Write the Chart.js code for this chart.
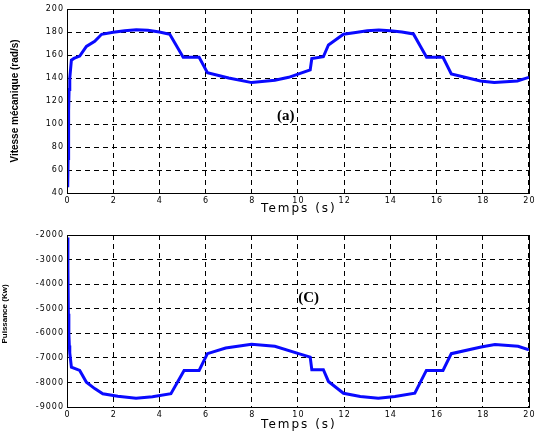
<!DOCTYPE html>
<html><head><meta charset="utf-8">
<script src="https://cdn.jsdelivr.net/npm/chart.js@4"></script>
<style>
html,body{margin:0;padding:0;background:#fff;}
#w1{position:absolute;left:0;top:0;width:537px;height:216px;}
#w2{position:absolute;left:0;top:216px;width:537px;height:216px;}
</style></head><body>
<div id="w1"><canvas id="c1" width="537" height="216"></canvas></div>
<div id="w2"><canvas id="c2" width="537" height="216"></canvas></div>
<script>
// ---- data ----
const timeSpeed = [0.03,0.05,0.07,0.09,0.12,0.19,0.3,0.55,0.84,1.2,1.5,2,2.5,3,3.5,4,4.45,5.03,5.72,6.08,7,8,9,9.6,10.53,10.6,11.1,11.32,11.97,12.5,13,13.5,14,14.5,15.0,15.57,16.28,16.64,17.9,18.5,19.5,20];
const speed =     [45,70,112,130,140,155.5,157,159,167.5,172,178,179.7,181,182,181.5,180,178,158,158,144.6,140,136,138,140.6,147,157,158.5,168.7,178,179.5,181,181.7,181,180,178.3,158,158,143.5,137.4,136,137.4,140.6];
const timePower = [0,0.04,0.06,0.08,0.1,0.12,0.19,0.55,0.84,1.2,1.55,2.2,2.99,3.7,4.5,5.07,5.72,6.08,6.87,7.99,9.0,10.03,10.53,10.6,11.1,11.32,11.97,12.7,13.48,14.2,15.06,15.56,16.28,16.64,17.93,18.53,19.53,20];
const power =     [-2100,-3300,-5200,-6000,-6500,-6800,-7375,-7510,-7990,-8250,-8460,-8560,-8640,-8580,-8460,-7510,-7510,-6830,-6600,-6450,-6530,-6830,-6967,-7480,-7480,-7960,-8440,-8570,-8640,-8570,-8440,-7510,-7510,-6830,-6560,-6460,-6530,-6670];
const xTicks = [0,2,4,6,8,10,12,14,16,18,20];
const speedTicks = [40,60,80,100,120,140,160,180,200];
const powerTicks = [-9000,-8000,-7000,-6000,-5000,-4000,-3000,-2000];
const xTitle = 'Temps (s)';
const speedTitle = 'Vitesse mécanique (rad/s)';
const powerTitle = 'Puissance (Kw)';
const labelA = {text:'(a)', x:9.47, y:107};
const labelC = {text:'(C)', x:10.46, y:-4571};

// text styling: wide tick labels / x title, shifted y title (mimics the stretched original)
let SP = Chart.registry.getScale('linear').prototype;
while (SP && !Object.prototype.hasOwnProperty.call(SP, 'drawTitle')) SP = Object.getPrototypeOf(SP);
const origTitle = SP.drawTitle, origLabels = SP.drawLabels;
SP.drawTitle = function(){
  const ctx = this.ctx; ctx.save();
  if (this.axis === 'x') { ctx.letterSpacing = '2px'; ctx.translate(1,0); }
  else { ctx.letterSpacing = '0px'; if (this.chart.canvas.id === 'c2') ctx.translate(0,-7); }
  origTitle.apply(this, arguments); ctx.restore();
};
SP.drawLabels = function(){
  const ctx = this.ctx; ctx.save();
  ctx.letterSpacing = '1px';
  if (this.axis === 'y') ctx.translate(1,0); else ctx.translate(0.5,0);
  origLabels.apply(this, arguments); ctx.restore();
};

const boxPlugin = {
  id:'box',
  afterDraw(chart){
    const a = chart.chartArea, ctx = chart.ctx;
    ctx.save();
    ctx.strokeStyle = '#000'; ctx.lineWidth = 1; ctx.setLineDash([]);
    ctx.strokeRect(Math.round(a.left)+0.5, Math.round(a.top)+0.5, Math.round(a.right-a.left), Math.round(a.bottom-a.top));
    const lab = chart.options.plugins.box.label;
    if (lab) {
      const px = chart.scales.x.getPixelForValue(lab.x);
      const py = chart.scales.y.getPixelForValue(lab.y);
      ctx.fillStyle = '#000';
      ctx.font = 'bold 15px "Liberation Serif", "Times New Roman", serif';
      ctx.textAlign = 'center'; ctx.textBaseline = 'middle';
      ctx.fillText(lab.text, px, py);
    }
    ctx.restore();
  }
};

const tickFont = {family:'"DejaVu Sans", sans-serif', size:8};
function makeChart(id, xs, ys, yTicks, yTitle, lab, pad, xAxisH, yTitleFont, yTitlePad) {
  const ymin = yTicks[0], ymax = yTicks[yTicks.length-1];
  return new Chart(document.getElementById(id), {
    type:'line',
    data:{datasets:[{data: xs.map((x,i)=>({x:x, y:ys[i]})), borderColor:'#0a0aff', borderWidth:3, pointRadius:0, tension:0, fill:false}]},
    options:{
      responsive:false, animation:false, maintainAspectRatio:false,
      layout:{padding:pad},
      plugins:{legend:{display:false}, tooltip:{enabled:false}, box:{label:lab}},
      scales:{
        x:{type:'linear', min:xTicks[0], max:xTicks[xTicks.length-1],
          afterBuildTicks(s){ s.ticks = xTicks.map(v=>({value:v})); },
          afterFit(s){ s.height = xAxisH; },
          grid:{color:'#000', lineWidth:1, drawTicks:false, tickLength:0},
          border:{display:false, dash:[5,4]},
          ticks:{color:'#000', font:tickFont, padding:3, maxRotation:0, callback:v=>String(v)},
          title:{display:true, text:xTitle, color:'#000', font:{family:'"DejaVu Sans", sans-serif', size:12}, padding:{top:0,bottom:0}}
        },
        y:{type:'linear', min:ymin, max:ymax,
          afterBuildTicks(s){ s.ticks = yTicks.map(v=>({value:v})); },
          afterFit(s){ s.width = 67; },
          grid:{color:'#000', lineWidth:1, drawTicks:false, tickLength:0},
          border:{display:false, dash:[5,4]},
          ticks:{color:'#000', font:tickFont, padding:4, callback:v=>String(v)},
          title:{display:true, text:yTitle, color:'#000', font:{family:'"Liberation Sans", Arial', size:yTitleFont, weight:'bold'}, padding:{top:yTitlePad,bottom:0}}
        }
      }
    },
    plugins:[boxPlugin]
  });
}
const c1 = makeChart('c1', timeSpeed, speed, speedTicks, speedTitle, labelA, {top:9,right:6,left:0,bottom:0}, 23, 10, 9);
const c2 = makeChart('c2', timePower, power, powerTicks, powerTitle, labelC, {top:19,right:6,left:0,bottom:0}, 25, 8, 0);
</script>
</body></html>
